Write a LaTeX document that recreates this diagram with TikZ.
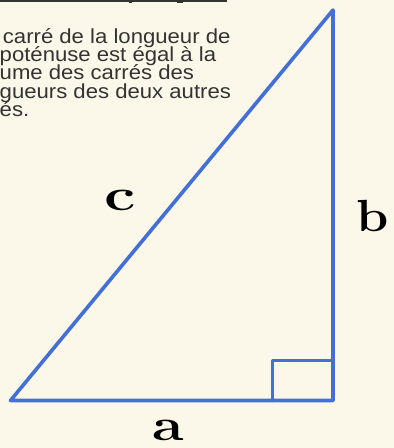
\documentclass[tikz,border=0pt]{standalone}
\usepackage{fontspec}
\usepackage{graphicx}
\newfontfamily\bodyfont{Liberation Sans}
\definecolor{bgcream}{HTML}{FCF8E9}
\definecolor{triblue}{HTML}{4270D8}
\definecolor{inkgray}{HTML}{333333}
\tikzset{
  side/.style={draw=triblue, line width=3.6pt, line join=round, line cap=round},
  bodytext/.style={anchor=base west, inner sep=0pt, text=inkgray, font=\bodyfont\fontsize{20.3}{18}\selectfont},
  sidelabel/.style={inner sep=0pt, text=black, font=\bfseries\fontsize{45}{45}\selectfont}
}
\begin{document}
\begin{tikzpicture}[x=1pt,y=1pt]
\fill[bgcream] (0,0) rectangle (394,448);
\useasboundingbox (0,0) rectangle (394,448);
% cut-off title underline
\fill[inkgray] (0,446.2) rectangle (227,448);
\fill[inkgray] (129,445) rectangle (132,446.5);
\fill[inkgray] (177,445) rectangle (183,446.5);
% body text (cut at left edge)
\node[bodytext] (l1) at (2.7,404.7) {\scalebox{1.09}[1]{carré de la longueur de}};
\node[bodytext] (l2) at (-0.5,386.3) {\scalebox{1.09}[1]{poténuse est égal à la}};
\node[bodytext] (l3) at (-0.5,368) {\scalebox{1.09}[1]{ume des carrés des}};
\node[bodytext] (l4) at (-0.5,349.6) {\scalebox{1.09}[1]{gueurs des deux autres}};
\node[bodytext] (l5) at (-0.5,331.3) {\scalebox{1.09}[1]{és.}};
% triangle
\coordinate (A) at (10.5,47.5);
\coordinate (B) at (333,47.5);
\coordinate (C) at (333,438);
\coordinate (Q1) at (272.5,47.5);
\coordinate (Q2) at (272.5,87.5);
\coordinate (Q3) at (333,87.5);
\draw[side] (A) -- (B) -- (C) -- cycle;
\draw[side] (Q1) -- (Q2) -- (Q3);
% labels
\node[sidelabel] (lc) at (120,248) {\scalebox{1.4}[1]{c}};
\node[sidelabel] (lb) at (372.5,232) {\scalebox{1.15}[1]{b}};
\node[sidelabel] (la) at (168,17.5) {\scalebox{1.28}[1]{a}};
\end{tikzpicture}
\end{document}
